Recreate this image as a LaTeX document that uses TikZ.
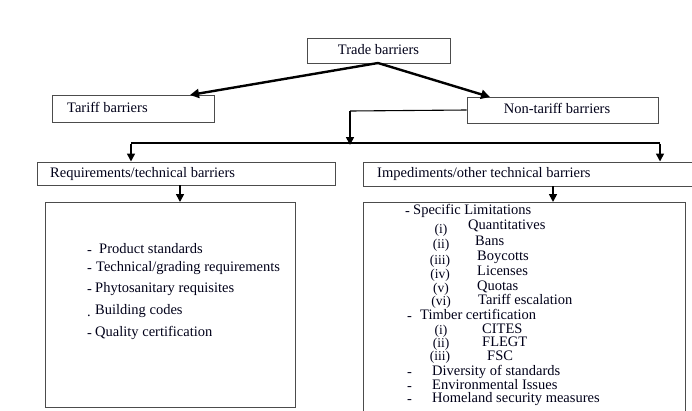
\documentclass[tikz,border=0pt]{standalone}
\usepackage{fontspec}
\setmainfont{Liberation Serif}
\usetikzlibrary{arrows.meta}
\begin{document}
\begin{tikzpicture}[x=1pt,y=-1pt,
  box/.style={draw=black!70, line width=1pt, rectangle, inner sep=0pt, fill=white},
  txt/.style={font=\fontsize{14.5}{16}\selectfont, inner sep=0pt, anchor=west, text=black!90!blue, text height=8.5pt, text depth=1.5pt},
  numtxt/.style={txt, font=\fontsize{13.5}{15}\selectfont, anchor=center},
  thickarr/.style={line width=2.4pt, -{Triangle[length=9pt,width=9pt]}},
  downarr/.style={line width=1.6pt, -{Triangle[length=8pt,width=8pt]}},
  conn/.style={line width=1.1pt}]
\clip (0,0) rectangle (692,410);
\fill[white] (0,0) rectangle (692,410);

% boxes
\node[box, minimum width=143pt, minimum height=25pt] (tb) at (378.5,50.5) {};
\node[txt, anchor=center] (tbt) at (tb.center) {Trade barriers};
\node[box, minimum width=162pt, minimum height=27pt] (tariff) at (133,108.5) {};
\node[txt] (tariffl) at (67,108.5) {Tariff barriers};
\node[box, minimum width=191pt, minimum height=26pt] (ntb) at (562.5,110) {};
\node[txt, anchor=center] (ntbt) at (557,110) {Non-tariff barriers};
\node[box, minimum width=298pt, minimum height=23pt] (req) at (186,173.5) {};
\node[txt] (reqt) at (50,173.5) {Requirements/technical barriers};
\node[box, minimum width=340pt, minimum height=24pt] (imp) at (533,174) {};
\node[txt] (impt) at (377,174) {Impediments/other technical barriers};
\node[box, minimum width=250pt, minimum height=205pt] (lc) at (170,304.5) {};
\node[box, minimum width=322pt, minimum height=230pt] (rc) at (524,317) {};

% connectors
\coordinate (tbs) at (378,63);
\draw[thickarr] (tbs) -- (190,95);
\draw[thickarr] (tbs) -- (490,97);
\coordinate (split) at (350,111);
\coordinate (bar) at (350,143);
\draw[conn] (ntb.west) -- (split);
\draw[downarr] (split) -- ([yshift=-2pt]bar);
\coordinate (barl) at (131,143);
\coordinate (barr) at (660,143);
\draw[conn] (barl) -- (barr);
\draw[downarr] ([yshift=-0.5pt]barl) -- (barl |- req.north);
\draw[downarr] ([yshift=-0.5pt]barr) -- (barr |- imp.north);
\draw[downarr] (180,185) -- (180,202);
\draw[downarr] (553,186) -- (553,202);

% left content
\node[txt] (l1d) at (87,251) {-};
\node[txt] (l1) at (99,250) {Product standards};
\node[txt] (l2d) at (87,269) {-};
\node[txt] (l2) at (96,268) {Technical/grading requirements};
\node[txt] (l3d) at (87,290) {-};
\node[txt] (l3) at (95,289) {Phytosanitary requisites};
\node[txt] (l4d) at (87,313) {.};
\node[txt] (l4) at (95,311) {Building codes};
\node[txt] (l5d) at (87,334) {-};
\node[txt] (l5) at (95,333) {Quality certification};

% right content
\node[txt] (r1d) at (405,212) {-};
\node[txt] (r1) at (413,211) {Specific Limitations};
\node[numtxt] (n1) at (441,230) {(i)};
\node[txt] (q1) at (468,226) {Quantitatives};
\node[numtxt] (n2) at (441,245) {(ii)};
\node[txt] (q2) at (475,242) {Bans};
\node[numtxt] (n3) at (440,261) {(iii)};
\node[txt] (q3) at (477,257) {Boycotts};
\node[numtxt] (n4) at (440,275) {(iv)};
\node[txt] (q4) at (477,272) {Licenses};
\node[numtxt] (n5) at (441,289) {(v)};
\node[txt] (q5) at (477,287) {Quotas};
\node[numtxt] (n6) at (441,302) {(vi)};
\node[txt] (q6) at (478,301) {Tariff escalation};
\node[txt] (r2d) at (407,317) {-};
\node[txt] (r2) at (420,316) {Timber certification};
\node[numtxt] (m1) at (441,331) {(i)};
\node[txt] (c1) at (482,330) {CITES};
\node[numtxt] (m2) at (441,344) {(ii)};
\node[txt] (c2) at (482,343) {FLEGT};
\node[numtxt] (m3) at (440,357) {(iii)};
\node[txt] (c3) at (487,356.5) {FSC};
\node[txt] (r3d) at (407,373) {-};
\node[txt] (r3) at (432,371.5) {Diversity of standards};
\node[txt] (r4d) at (407,387) {-};
\node[txt] (r4) at (432,385.5) {Environmental Issues};
\node[txt] (r5d) at (407,400) {-};
\node[txt] (r5) at (432,398.5) {Homeland security measures};
\end{tikzpicture}
\end{document}
